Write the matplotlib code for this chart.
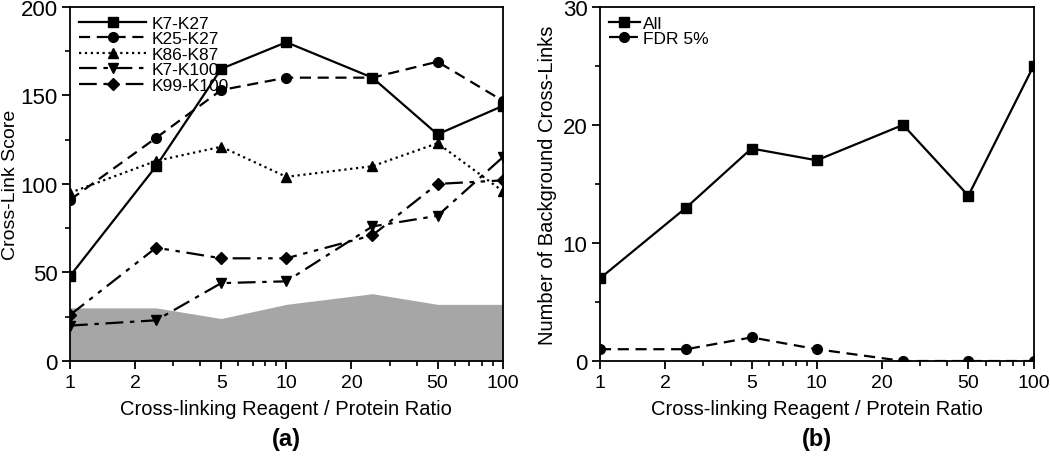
import numpy as np
import matplotlib.pyplot as plt
from matplotlib.ticker import MultipleLocator, FixedLocator, NullFormatter

plt.rcParams['font.family'] = ['Liberation Sans', 'DejaVu Sans']

# Verhaeltnis Vernetzer / Protein
ratio = [1, 2.5, 5, 10, 25, 50, 100]

# (a) Cross-Link Scores
k7_k27 = [48, 110, 165, 180, 160, 128, 144]
k25_k27 = [91, 126, 153, 160, 160, 169, 147]
k86_k87 = [95, 113, 121, 104, 110, 123, 96]
k7_k100 = [20, 23, 44, 45, 76, 82, 115]
k99_k100 = [26, 64, 58, 58, 71, 100, 102]
hintergrund = [30, 30, 24, 32, 38, 32, 32]

# (b) Hintergrund-Cross-Links
alle = [7, 13, 18, 17, 20, 14, 25]
fdr5 = [1, 1, 2, 1, 0, 0, 0]

xticks = [1, 2, 5, 10, 20, 50, 100]

fig = plt.figure(figsize=(10.5, 4.6), dpi=100)
ax1 = fig.add_axes([0.0667, 0.213, 0.412, 0.77])
ax2 = fig.add_axes([0.5714, 0.213, 0.413, 0.77])

lw = 1.6
ms = 7
ax1.fill_between(ratio, 0, hintergrund, color='#a6a6a6', lw=0, zorder=1)
ax1.plot(ratio, k7_k27, '-', marker='s', color='black', lw=lw, ms=ms, label='K7-K27')
ax1.plot(ratio, k25_k27, '--', marker='o', color='black', lw=lw, ms=ms, dashes=(5, 3), label='K25-K27')
ax1.plot(ratio, k86_k87, ':', marker='^', color='black', lw=lw, ms=ms, label='K86-K87')
ax1.plot(ratio, k7_k100, '-.', marker='v', color='black', lw=lw, ms=ms, dashes=(8, 3, 2, 3), label='K7-K100')
ax1.plot(ratio, k99_k100, '-', marker='D', color='black', lw=lw, ms=6, dashes=(8, 3, 2, 3, 2, 3), label='K99-K100')
ax1.set_ylim(0, 200)
ax1.yaxis.set_major_locator(MultipleLocator(50))
ax1.yaxis.set_minor_locator(MultipleLocator(25))
ax1.set_ylabel('Cross-Link Score', fontsize=14, labelpad=1)
ax1.legend(loc='upper left', frameon=False, fontsize=12.5, handlelength=3.9,
           borderaxespad=0.1, labelspacing=0.02, handletextpad=0.3)

ax2.plot(ratio, alle, '-', marker='s', color='black', lw=lw, ms=ms, label='All')
ax2.plot(ratio, fdr5, '--', marker='o', color='black', lw=lw, ms=ms, dashes=(5, 3), label='FDR 5%')
ax2.set_ylim(0, 30)
ax2.yaxis.set_major_locator(MultipleLocator(10))
ax2.yaxis.set_minor_locator(MultipleLocator(5))
ax2.set_ylabel('Number of Background Cross-Links', fontsize=14.5, labelpad=4)
ax2.legend(loc='upper left', frameon=False, fontsize=12.5, handlelength=1.8,
           borderaxespad=0.1, labelspacing=0.02, handletextpad=0.2)

for ax, tag in [(ax1, '(a)'), (ax2, '(b)')]:
    ax.set_xscale('log')
    ax.set_xlim(1, 100)
    ax.xaxis.set_major_locator(FixedLocator(xticks))
    ax.set_xticklabels([str(t) for t in xticks], fontsize=14)
    ax.xaxis.set_minor_locator(FixedLocator([3, 4, 6, 7, 8, 9, 30, 40, 60, 70, 80, 90]))
    ax.xaxis.set_minor_formatter(NullFormatter())
    ax.tick_params(axis='y', labelsize=16)
    ax.tick_params(which='major', direction='out', length=6, width=1.3, pad=3)
    ax.tick_params(which='minor', direction='out', length=3.5, width=1.2)
    for s in ax.spines.values():
        s.set_linewidth(1.3)
    ax.set_xlabel('Cross-linking Reagent / Protein Ratio', fontsize=14.5, labelpad=6)
    ax.text(0.5, -0.22, tag, transform=ax.transAxes, ha='center', va='center',
            fontsize=17, fontweight='bold')

fig.savefig('out.png', dpi=100)
